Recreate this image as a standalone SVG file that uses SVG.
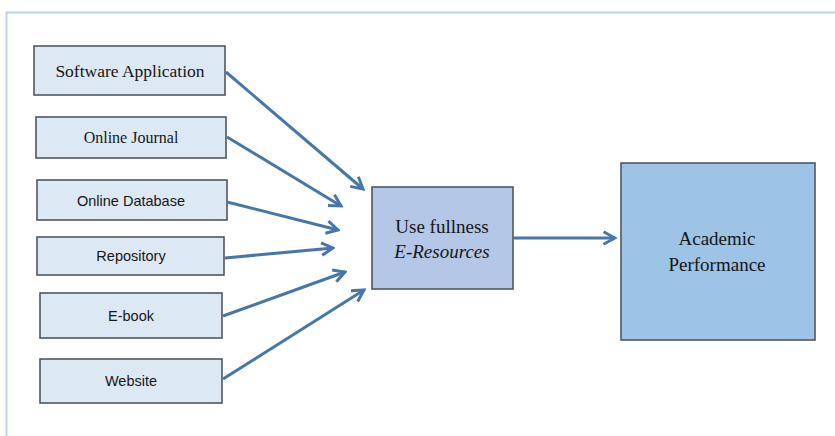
<svg xmlns="http://www.w3.org/2000/svg" width="835" height="436" viewBox="0 0 835 436">
<style>
.src{fill:#dde8f5;stroke:#50575f;stroke-width:1.6}
.mid{fill:#b4c7e7;stroke:#50575f;stroke-width:1.6}
.out{fill:#9dc3e6;stroke:#50575f;stroke-width:1.6}
.serif{font-family:"Liberation Serif","Times New Roman",serif;fill:#161616;text-anchor:middle}
.sans{font-family:"Liberation Sans",Arial,sans-serif;fill:#161616;text-anchor:middle}
.conn line{stroke:#4677a8;stroke-width:3;marker-end:url(#ah)}
</style>
<defs>
<marker id="ah" viewBox="0 0 14 14" refX="12" refY="7" markerWidth="16" markerHeight="16" markerUnits="userSpaceOnUse" orient="auto">
<polyline points="2,1.5 12,7 2,12.5" fill="none" stroke="#4677a8" stroke-width="2.6" stroke-linejoin="miter"/>
</marker>
</defs>
<rect width="835" height="436" fill="#ffffff"/>
<path d="M6.5,436 V12.5 H835" fill="none" stroke="#bcd3ec" stroke-width="2"/>
<g id="software-application"><rect class="src" x="34" y="46" width="191" height="49"/><text class="serif" x="130" y="77" font-size="17.5">Software Application</text></g>
<g id="online-journal"><rect class="src" x="36" y="117" width="190" height="41"/><text class="serif" x="131" y="143" font-size="16">Online Journal</text></g>
<g id="online-database"><rect class="src" x="37" y="180" width="190" height="40"/><text class="sans" x="131" y="206" font-size="14.5">Online Database</text></g>
<g id="repository"><rect class="src" x="37" y="237" width="187" height="38"/><text class="sans" x="131" y="261" font-size="14.5">Repository</text></g>
<g id="e-book"><rect class="src" x="40" y="293" width="182" height="45"/><text class="sans" x="131" y="321" font-size="14.5">E-book</text></g>
<g id="website"><rect class="src" x="40" y="359" width="182" height="44"/><text class="sans" x="131" y="386" font-size="14.5">Website</text></g>
<g id="usefulness"><rect class="mid" x="372" y="187" width="141" height="102"/><text class="serif" x="442" y="233" font-size="19">Use fullness</text><text class="serif" x="442" y="258" font-size="19" font-style="italic">E-Resources</text></g>
<g id="academic-performance"><rect class="out" x="621" y="163" width="194" height="177"/><text class="serif" x="717" y="245" font-size="19">Academic</text><text class="serif" x="717" y="271" font-size="19">Performance</text></g>
<g class="conn" id="connectors">
<line x1="226" y1="72" x2="363" y2="189"/>
<line x1="227" y1="137" x2="341" y2="206"/>
<line x1="227" y1="202" x2="338" y2="230"/>
<line x1="225" y1="258" x2="333" y2="248"/>
<line x1="223" y1="316" x2="345" y2="272"/>
<line x1="223" y1="379" x2="364" y2="290"/>
<line x1="513" y1="238" x2="615" y2="238"/>
</g>
</svg>
